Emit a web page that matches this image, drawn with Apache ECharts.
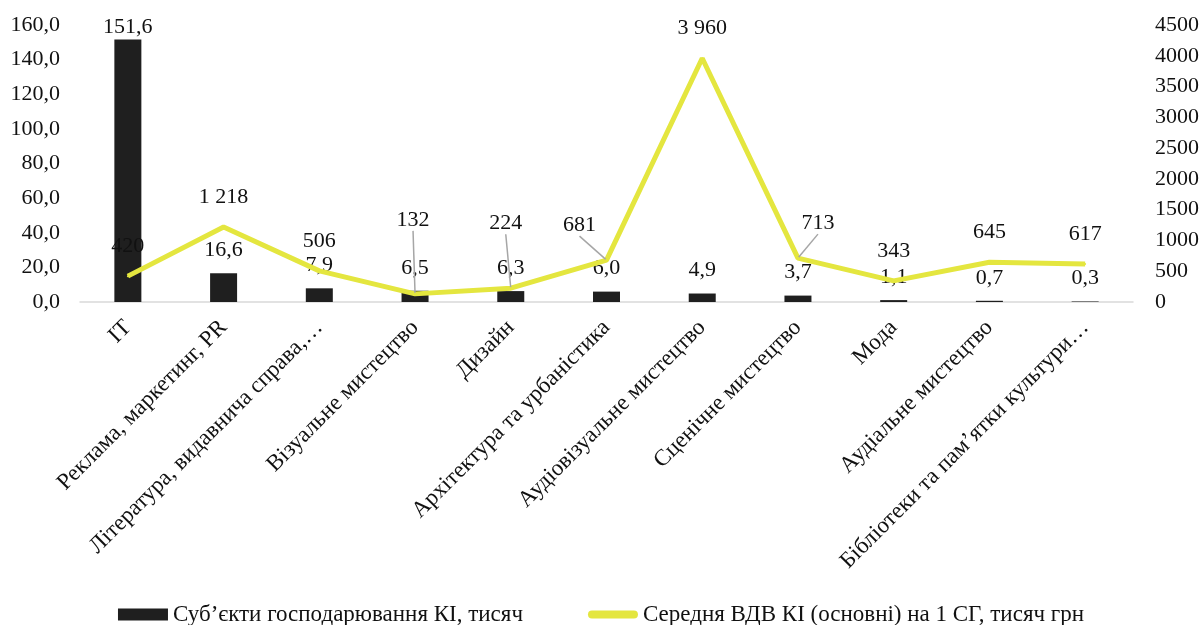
<!DOCTYPE html>
<html>
<head>
<meta charset="utf-8">
<script src="https://cdn.jsdelivr.net/npm/echarts@6/dist/echarts.min.js"></script>
<style>
  html, body { margin: 0; padding: 0; background: #fff; }
  #chart { width: 1202px; height: 625px; }
</style>
</head>
<body>
<div id="chart"></div>
<script>
// Creative industries by sector
const categories = [
  'IT',
  'Реклама, маркетинг, PR',
  'Література, видавнича справа,…',
  'Візуальне мистецтво',
  'Дизайн',
  'Архітектура та урбаністика',
  'Аудіовізуальне мистецтво',
  'Сценічне мистецтво',
  'Мода',
  'Аудіальне мистецтво',
  'Бібліотеки та пам’ятки культури…'
];
// Business entities, thousands
const entities = [151.6, 16.6, 7.9, 6.5, 6.3, 6.0, 4.9, 3.7, 1.1, 0.7, 0.3];
// Average gross value added per entity, thousand UAH
const gvaPerEntity = [420, 1218, 506, 132, 224, 681, 3960, 713, 343, 645, 617];

const seriesNames = [
  'Суб’єкти господарювання КІ, тисяч',
  'Середня ВДВ КІ (основні) на 1 СГ, тисяч грн'
];

const FONT = '"Liberation Serif", "DejaVu Serif", serif';
const TXT = '#111';
const LINE_COLOR = '#e4e63f';

// Labels that are pulled aside with a guide line: [dx, dy]
const movedLabels = { 3: [-2, -44], 4: [-5, -35], 5: [-27, -5], 7: [20, -5] };

const fmtComma = v => v.toFixed(1).replace('.', ',');
const fmtThousands = v => String(v).replace(/\B(?=(\d{3})+(?!\d))/g, ' ');

// Thin rounded bar for the line legend entry (outer moves keep a 50x12 box)
const lineLegendIcon = 'path://M0,0 M50,12 M4,2 L46,2 A4,4 0 0 1 46,10 L4,10 A4,4 0 0 1 4,2 Z';

const chart = echarts.init(document.getElementById('chart'), null, { renderer: 'canvas' });

chart.setOption({
  animation: false,
  backgroundColor: '#fff',
  textStyle: { fontFamily: FONT, color: TXT },
  grid: { left: 80, right: 69, top: 25, bottom: 323, containLabel: false },
  legend: {
    top: 598,
    left: 'center',
    itemWidth: 50,
    itemHeight: 12,
    itemGap: 65,
    textStyle: { fontFamily: FONT, fontSize: 23, color: TXT },
    data: [
      { name: seriesNames[0], icon: 'rect' },
      { name: seriesNames[1], icon: lineLegendIcon, itemStyle: { color: LINE_COLOR } }
    ]
  },
  xAxis: {
    type: 'category',
    data: categories,
    boundaryGap: true,
    axisLine: { show: true, lineStyle: { color: '#d9d9d9', width: 1.5 } },
    axisTick: { show: false },
    axisLabel: {
      interval: 0,
      rotate: 45,
      margin: 22,
      fontFamily: FONT,
      fontSize: 23,
      color: TXT
    }
  },
  yAxis: [
    {
      type: 'value',
      min: 0, max: 160, interval: 20,
      splitLine: { show: false },
      axisLine: { show: false },
      axisTick: { show: false },
      axisLabel: { formatter: fmtComma, fontFamily: FONT, fontSize: 22, color: TXT, margin: 20 }
    },
    {
      type: 'value',
      min: 0, max: 4500, interval: 500,
      splitLine: { show: false },
      axisLine: { show: false },
      axisTick: { show: false },
      axisLabel: { formatter: v => String(v), fontFamily: FONT, fontSize: 22, color: TXT, margin: 22 }
    }
  ],
  series: [
    {
      name: seriesNames[0],
      type: 'bar',
      yAxisIndex: 0,
      barWidth: 27,
      itemStyle: { color: '#1f1f1f' },
      data: entities.map((v, i) => i === 0
        ? { value: v, label: { distance: 1 } }
        : v),
      label: {
        show: true,
        position: 'top',
        distance: 12,
        formatter: p => fmtComma(p.value),
        fontFamily: FONT,
        fontSize: 22,
        color: TXT
      },
      z: 2
    },
    {
      name: seriesNames[1],
      type: 'line',
      yAxisIndex: 1,
      symbol: 'circle',
      symbolSize: 2,
      showSymbol: true,
      lineStyle: { color: LINE_COLOR, width: 5 },
      itemStyle: { color: LINE_COLOR },
      data: gvaPerEntity.map((v, i) => ({
        value: v,
        labelLine: { show: i in movedLabels }
      })),
      label: {
        show: true,
        position: 'top',
        distance: 18,
        formatter: p => fmtThousands(p.value),
        fontFamily: FONT,
        fontSize: 22,
        color: TXT
      },
      labelLine: { show: false, lineStyle: { color: '#a6a6a6', width: 1.5 } },
      labelLayout: function (params) {
        const m = movedLabels[params.dataIndex];
        return m ? { dx: m[0], dy: m[1] } : {};
      },
      z: 3
    }
  ]
});
</script>
</body>
</html>
